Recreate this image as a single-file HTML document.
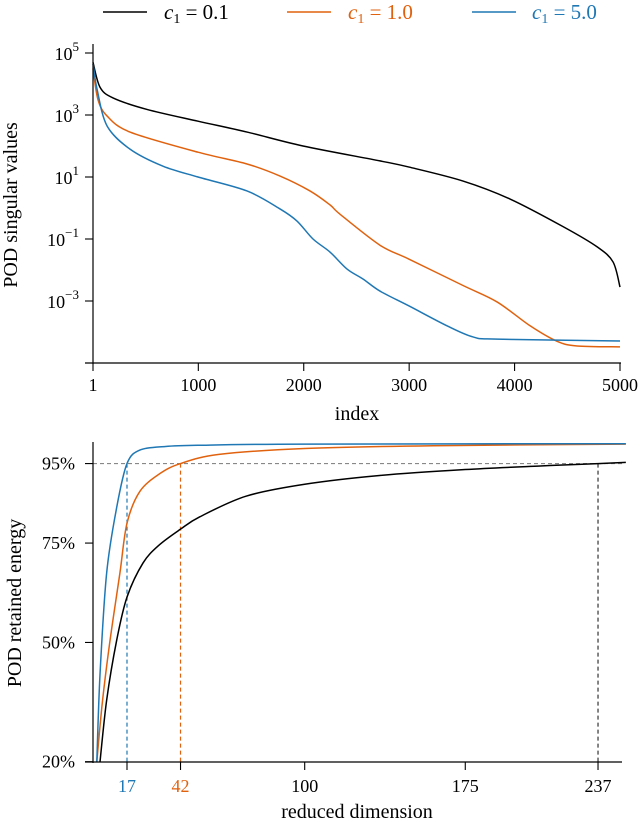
<!DOCTYPE html>
<html><head><meta charset="utf-8">
<style>
html,body{margin:0;padding:0;background:#fff;}
svg{display:block;font-family:"Liberation Serif",serif;}
</style></head>
<body>
<svg id="chart" width="640" height="822" viewBox="0 0 640 822" xmlns="http://www.w3.org/2000/svg">
  <g>
    <g>
      <line x1="103" y1="12" x2="147" y2="12" stroke="#000" stroke-width="1.5"/>
      <text x="164" y="19" font-size="21" fill="#000"><tspan font-style="italic">c</tspan><tspan font-size="14" dy="4">1</tspan><tspan dy="-4"> = 0.1</tspan></text>
    </g>
    <g>
      <line x1="287" y1="12" x2="331" y2="12" stroke="#e0620f" stroke-width="1.5"/>
      <text x="348" y="19" font-size="21" fill="#e0620f"><tspan font-style="italic">c</tspan><tspan font-size="14" dy="4">1</tspan><tspan dy="-4"> = 1.0</tspan></text>
    </g>
    <g>
      <line x1="472" y1="12" x2="516" y2="12" stroke="#1f77b4" stroke-width="1.5"/>
      <text x="532" y="19" font-size="21" fill="#1f77b4"><tspan font-style="italic">c</tspan><tspan font-size="14" dy="4">1</tspan><tspan dy="-4"> = 5.0</tspan></text>
    </g>
  </g>
  <g id="topPanel"></g>
  <g id="botPanel"></g>
</svg>
<script>
// ---- top chart data (log10 of singular values) ----
const topIdxBlack = [1, 67, 191, 513, 997, 1462, 1993, 2723, 2999, 3511, 3957, 4460, 4782, 4934, 5000];
const topLogBlack = [4.7, 3.9, 3.55, 3.18, 2.8, 2.45, 2.0, 1.52, 1.32, 0.87, 0.29, -0.6, -1.25, -1.74, -2.55];
const topIdxOrange = [1, 48, 134, 352, 997, 1462, 1775, 2059, 2249, 2344, 2723, 2999, 3511, 3834, 4147, 4403, 4593, 5000];
const topLogOrange = [4.5, 3.5, 2.97, 2.45, 1.8, 1.42, 1.03, 0.55, 0.1, -0.2, -1.2, -1.65, -2.5, -3.03, -3.8, -4.3, -4.45, -4.48];
const topIdxBlue = [1, 39, 134, 352, 665, 997, 1462, 1775, 1936, 2088, 2249, 2411, 2562, 2723, 2999, 3359, 3606, 3834, 5000];
const topLogBlue = [4.65, 3.84, 2.65, 1.9, 1.35, 1.0, 0.55, -0.03, -0.42, -1.0, -1.42, -1.97, -2.29, -2.68, -3.16, -3.8, -4.16, -4.23, -4.29];
const topXTicks = [1, 1000, 2000, 3000, 4000, 5000];
const topYTicks = [5, 3, 1, -1, -3];
// ---- bottom chart data (retained energy %) ----
const botDimBlack = [4.4, 7.5, 12.2, 17, 24.5, 32, 42, 51, 72.6, 100, 135, 175, 210, 237, 250];
const botPctBlack = [20, 35.5, 50.6, 61.4, 70, 74.5, 78.5, 81.6, 86.8, 89.8, 92, 93.5, 94.4, 95, 95.3];
const botDimOrange = [2.9, 5.5, 9.1, 13.7, 17, 23, 32.4, 42, 60, 100, 160, 250];
const botPctOrange = [20, 35, 50.6, 67.5, 80, 88, 92.5, 95, 97.3, 98.8, 99.5, 99.9];
const botDimBlue = [2.9, 4.4, 7.5, 12.2, 17, 23, 35, 50, 100, 250];
const botPctBlue = [20, 42, 67.5, 84, 95, 98.4, 99.3, 99.6, 99.9, 100];
const botXTicks = [17, 42, 100, 175, 237];
const botXTickColors = ["#1f77b4", "#e0620f", "#000", "#000", "#000"];
const botYTicks = [20, 50, 75, 95];
const thresholdPct = 95;
const thresholdDims = [17, 42, 237];
const thresholdColors = ["#1f77b4", "#e0620f", "#333"];
const thresholdCurvePct = [95, 95, 95];

const NS = "http://www.w3.org/2000/svg";
function mk(tag, attrs, parent){const e=document.createElementNS(NS,tag);for(const k in attrs)e.setAttribute(k,attrs[k]);parent.appendChild(e);return e;}
function smooth(pts){
  let d="M"+pts[0][0].toFixed(2)+","+pts[0][1].toFixed(2);
  for(let i=0;i<pts.length-1;i++){
    const p0=pts[Math.max(0,i-1)],p1=pts[i],p2=pts[i+1],p3=pts[Math.min(pts.length-1,i+2)];
    const t=0.16;
    const c1=[p1[0]+(p2[0]-p0[0])*t,p1[1]+(p2[1]-p0[1])*t];
    const c2=[p2[0]-(p3[0]-p1[0])*t,p2[1]-(p3[1]-p1[1])*t];
    d+="C"+c1.map(v=>v.toFixed(2))+" "+c2.map(v=>v.toFixed(2))+" "+p2.map(v=>v.toFixed(2));
  }
  return d;
}
// ---- top panel ----
const topG=document.getElementById("topPanel");
const tx=v=>93+(v-1)/4999*527;
const ty=l=>53+(5-l)*31;
const topSeries=[[topIdxBlack,topLogBlack,"#000","curve-c1-0.1"],[topIdxOrange,topLogOrange,"#e0620f","curve-c1-1.0"],[topIdxBlue,topLogBlue,"#1f77b4","curve-c1-5.0"]];
for(const s of topSeries){
  const p=mk("path",{d:smooth(s[0].map((v,i)=>[tx(v),ty(s[1][i])])),fill:"none",stroke:s[2],"stroke-width":1.5},topG);
  
  
}
let a=mk("line",{x1:93,y1:44,x2:93,y2:364,stroke:"#000","stroke-width":1.2},topG);


a=mk("line",{x1:85,y1:363,x2:621,y2:363,stroke:"#000","stroke-width":1.2},topG);


for(const t of topXTicks){
  mk("line",{x1:tx(t),y1:363,x2:tx(t),y2:371,stroke:"#000","stroke-width":1.1},topG);
  const e=mk("text",{x:tx(t),y:391,"font-size":18,"text-anchor":"middle"},topG);
  e.textContent=t;
  
  
}
for(const t of topYTicks){
  mk("line",{x1:85,y1:ty(t),x2:93,y2:ty(t),stroke:"#000","stroke-width":1.1},topG);
  const e=mk("text",{x:79,y:ty(t)+7,"font-size":18,"text-anchor":"end"},topG);
  const a1=mk("tspan",{},e);a1.textContent="10";
  const a2=mk("tspan",{dy:-9,"font-size":13},e);a2.textContent=(t<0?"\u2212"+(-t):t);
  
  
}
let lb=mk("text",{x:357,y:420,"font-size":20,"text-anchor":"middle"},topG);lb.textContent="index";


lb=mk("text",{x:0,y:0,"font-size":20,"text-anchor":"middle",transform:"translate(17,205) rotate(-90)"},topG);lb.textContent="POD singular values";


// ---- bottom panel ----
const botG=document.getElementById("botPanel");
const bx=v=>90.6+v*2.141;
const by=p=>761.7-(p-20)*3.975;
let g=mk("line",{x1:93,y1:by(thresholdPct),x2:622,y2:by(thresholdPct),stroke:"#888","stroke-width":1.2,"stroke-dasharray":"4,3"},botG);


thresholdDims.forEach((d,i)=>{
  const l=mk("line",{x1:bx(d),y1:by(thresholdCurvePct[i]),x2:bx(d),y2:762,stroke:thresholdColors[i],"stroke-width":1.2,"stroke-dasharray":"4,3"},botG);
  
  
});
const botSeries=[[botDimBlack,botPctBlack,"#000","curve-c1-0.1"],[botDimOrange,botPctOrange,"#e0620f","curve-c1-1.0"],[botDimBlue,botPctBlue,"#1f77b4","curve-c1-5.0"]];
for(const s of botSeries){
  const p=mk("path",{d:smooth(s[0].map((v,i)=>[bx(v),by(s[1][i])])),fill:"none",stroke:s[2],"stroke-width":1.5},botG);
  
  
}
a=mk("line",{x1:93,y1:442,x2:93,y2:763,stroke:"#000","stroke-width":1.2},botG);


a=mk("line",{x1:85,y1:762,x2:622,y2:762,stroke:"#000","stroke-width":1.2},botG);


botXTicks.forEach((t,i)=>{
  mk("line",{x1:bx(t),y1:762,x2:bx(t),y2:770,stroke:"#000","stroke-width":1.1},botG);
  const e=mk("text",{x:bx(t),y:792,"font-size":18,"text-anchor":"middle",fill:botXTickColors[i]},botG);
  e.textContent=t;
  
  
});
for(const t of botYTicks){
  mk("line",{x1:85,y1:by(t),x2:93,y2:by(t),stroke:"#000","stroke-width":1.1},botG);
  const e=mk("text",{x:75,y:by(t)+6,"font-size":18,"text-anchor":"end"},botG);
  e.textContent=t+"%";
  
  
}
lb=mk("text",{x:357,y:818,"font-size":20,"text-anchor":"middle"},botG);lb.textContent="reduced dimension";


lb=mk("text",{x:0,y:0,"font-size":20,"text-anchor":"middle",transform:"translate(21,603) rotate(-90)"},botG);lb.textContent="POD retained energy";


</script>
</body></html>
